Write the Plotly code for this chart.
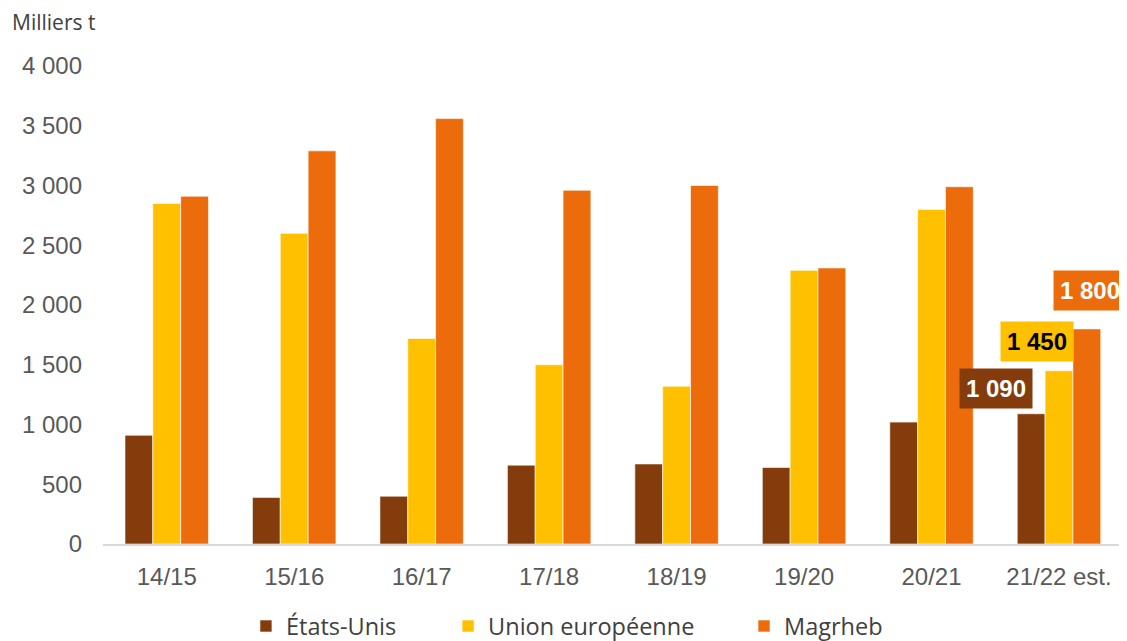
import plotly.graph_objects as go

categories = ["14/15", "15/16", "16/17", "17/18", "18/19", "19/20", "20/21", "21/22 est."]
etats_unis = [910, 390, 400, 660, 670, 640, 1020, 1090]
union_europeenne = [2850, 2600, 1720, 1500, 1320, 2290, 2800, 1450]
maghreb = [2910, 3290, 3560, 2960, 3000, 2310, 2990, 1800]
series_names = ["États-Unis", "Union européenne", "Magrheb"]
tick_vals = [0, 500, 1000, 1500, 2000, 2500, 3000, 3500, 4000]
tick_text = ["0", "500", "1 000", "1 500", "2 000", "2 500", "3 000", "3 500", "4 000"]

colors = ["#843C0C", "#FFC000", "#EC6C0C"]
data = [etats_unis, union_europeenne, maghreb]
legends = ["legend", "legend2", "legend3"]

fig = go.Figure()
for name, vals, col, lg in zip(series_names, data, colors, legends):
    fig.add_trace(go.Bar(
        x=categories, y=vals, name=name, marker_color=col,
        marker_line=dict(color="rgba(255,255,255,0.6)", width=1),
        legend=lg,
    ))

# last-year labels
label_specs = [
    (etats_unis[-1], "1 090", colors[0], "white", -35, 5),
    (union_europeenne[-1], "1 450", colors[1], "black", -22, 9),
    (maghreb[-1], "1 800", colors[2], "white", 3, 18),
]
offsets = [-28, 0, 28]
for (val, txt, bg, fc, dx, dy), off in zip(label_specs, offsets):
    fig.add_annotation(
        x=categories[-1], y=val, text="<b>%s</b>" % txt, showarrow=False,
        xshift=off + dx, yshift=dy, yanchor="bottom",
        bgcolor=bg, font=dict(family="Liberation Sans, Arial", size=24, color=fc),
        borderpad=6,
    )

fig.add_annotation(
    xref="paper", yref="paper", x=-0.0908, y=1.092, xanchor="left", yanchor="middle",
    text="Milliers t", showarrow=False,
    font=dict(family="Open Sans", size=21, color="#404040"),
)

leg_font = dict(family="Open Sans", size=23.5, color="#404040")
leg_x = [0.1396, 0.337, 0.626]
layout_legends = {}
for lg, lx in zip(legends, leg_x):
    layout_legends[lg] = dict(
        x=lx, y=-0.172, xanchor="left", yanchor="middle", orientation="h",
        font=leg_font, itemwidth=30, bgcolor="rgba(0,0,0,0)",
    )

fig.update_layout(
    width=1119, height=633,
    margin=dict(l=95, r=0, t=58, b=97, autoexpand=False),
    plot_bgcolor="white", paper_bgcolor="white",
    barmode="group", bargap=0.345, bargroupgap=0,
    showlegend=True,
    **layout_legends,
    xaxis=dict(
        showgrid=False, showline=True, linecolor="#D9D9D9", linewidth=2,
        ticks="", tickfont=dict(family="Liberation Sans, Arial", size=24, color="#595959"),
        ticklabelstandoff=10,
    ),
    yaxis=dict(
        range=[0, 4000], tickvals=tick_vals, ticktext=tick_text,
        showgrid=False, zeroline=False, showline=False, ticks="",
        tickfont=dict(family="Liberation Sans, Arial", size=24, color="#595959"),
        ticklabelstandoff=20,
    ),
)

fig.write_html("out.html")
